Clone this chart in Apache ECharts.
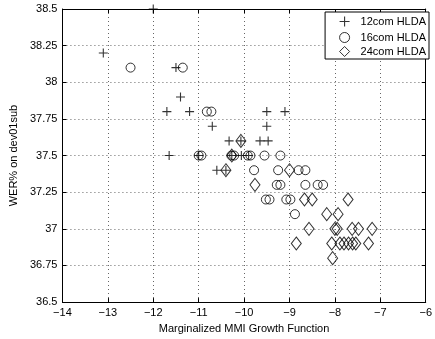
<!DOCTYPE html>
<html>
<head>
<meta charset="utf-8">
<script src="https://cdn.jsdelivr.net/npm/echarts@6/dist/echarts.min.js"></script>
<style>
	html, body { margin: 0; padding: 0; background: #fff; }
	#chart { width: 435px; height: 339px; }
</style>
</head>
<body>
<div id="chart"></div>
<script>
// values: [growth function, WER%]
const hlda12 = [
	[-13.1, 38.2], [-12.0, 38.5], [-11.5, 38.1], [-11.4, 37.9], [-11.7, 37.8], [-11.2, 37.8],
	[-10.7, 37.7], [-10.33, 37.6], [-10.07, 37.6], [-11.65, 37.5], [-11.0, 37.5],
	[-10.27, 37.5], [-10.06, 37.5], [-9.9, 37.5], [-10.6, 37.4], [-10.4, 37.4],
	[-9.5, 37.8], [-9.1, 37.8], [-9.5, 37.7], [-9.65, 37.6], [-9.47, 37.6]
]
const hlda16 = [
	[-12.5, 38.1], [-11.35, 38.1], [-10.82, 37.8], [-10.72, 37.8], [-11.0, 37.5], [-10.94, 37.5],
	[-10.28, 37.5], [-10.22, 37.5], [-9.92, 37.5], [-9.86, 37.5], [-9.55, 37.5], [-9.2, 37.5],
	[-9.78, 37.4], [-9.25, 37.4], [-8.8, 37.4], [-8.65, 37.4],
	[-9.28, 37.3], [-9.2, 37.3], [-8.65, 37.3], [-8.38, 37.3], [-8.26, 37.3],
	[-9.52, 37.2], [-9.44, 37.2], [-9.07, 37.2], [-8.98, 37.2], [-8.88, 37.1]
]
const hlda24 = [
	[-10.07, 37.6], [-10.27, 37.5], [-10.4, 37.4], [-9.0, 37.4], [-9.76, 37.3],
	[-8.67, 37.2], [-8.5, 37.2], [-7.71, 37.2], [-8.18, 37.1], [-7.93, 37.1],
	[-8.57, 37.0], [-8.0, 37.0], [-7.95, 37.0], [-7.62, 37.0], [-7.48, 37.0], [-7.18, 37.0],
	[-8.85, 36.9], [-8.07, 36.9], [-7.89, 36.9], [-7.8, 36.9], [-7.7, 36.9], [-7.61, 36.9],
	[-7.54, 36.9], [-7.26, 36.9], [-8.05, 36.8]
]
const seriesNames = ['12com HLDA', '16com HLDA', '24com HLDA']

const font = 'Liberation Sans, Arial, sans-serif'
// plus sign drawn as two strokes
const plusPath = 'path://M0,5L10,5M5,0L5,10'
const plusStyle = { color: 'none', borderColor: '#000', borderWidth: 1.1 }
const hollow = { color: 'rgba(0,0,0,0)', borderColor: '#000', borderWidth: 1 }
const gridLine = { show: true, lineStyle: { color: '#666', type: [1, 3], width: 1 } }
const tick = { show: true, inside: true, length: 4, lineStyle: { color: '#000' } }
const line = { show: true, lineStyle: { color: '#000', width: 1 } }

const xBase = { type: 'value', min: -14, max: -6, interval: 1 }
const yBase = { type: 'value', min: 36.5, max: 38.5, interval: 0.25 }

let chart = echarts.init(document.getElementById('chart'))
chart.setOption({
	animation: false,
	textStyle: { fontFamily: font },
	grid: { left: 54, right: 3, top: 9, bottom: 32 },
	legend: {
		right: 6,
		top: 12,
		orient: 'vertical',
		backgroundColor: '#fff',
		borderColor: '#000',
		borderWidth: 1,
		borderRadius: 0,
		padding: [2, 3, 2, 12],
		itemGap: 3,
		itemWidth: 10,
		itemHeight: 10,
		textStyle: { fontSize: 11, color: '#000', padding: [0, 0, 0, 6] },
		data: [
			{ name: seriesNames[0], icon: plusPath, itemStyle: plusStyle },
			{ name: seriesNames[1], icon: 'circle', itemStyle: hollow },
			{ name: seriesNames[2], icon: 'diamond', itemStyle: hollow }
		]
	},
	xAxis: [
		Object.assign({}, xBase, {
			position: 'bottom',
			axisLine: line,
			axisTick: tick,
			splitLine: gridLine,
			axisLabel: {
				color: '#000', fontSize: 11, margin: 5,
				formatter: v => String(v).replace('-', '\u2212')
			},
			name: 'Marginalized MMI Growth Function',
			nameLocation: 'middle',
			nameGap: 20,
			nameTextStyle: { color: '#000', fontSize: 11 }
		}),
		Object.assign({}, xBase, {
			position: 'top',
			axisLine: line,
			axisTick: tick,
			axisLabel: { show: false },
			splitLine: { show: false }
		})
	],
	yAxis: [
		Object.assign({}, yBase, {
			position: 'left',
			axisLine: line,
			axisTick: tick,
			splitLine: gridLine,
			axisLabel: { color: '#000', fontSize: 11, margin: 5 },
			name: 'WER% on dev01sub',
			nameLocation: 'middle',
			nameGap: 39,
			nameTextStyle: { color: '#000', fontSize: 11 }
		}),
		Object.assign({}, yBase, {
			position: 'right',
			axisLine: line,
			axisTick: tick,
			axisLabel: { show: false },
			splitLine: { show: false }
		})
	],
	series: [
		{
			name: seriesNames[0],
			type: 'scatter',
			data: hlda12,
			symbol: plusPath,
			symbolSize: 9,
			itemStyle: plusStyle
		},
		{
			name: seriesNames[1],
			type: 'scatter',
			data: hlda16,
			symbol: 'circle',
			symbolSize: 9,
			itemStyle: hollow
		},
		{
			name: seriesNames[2],
			type: 'scatter',
			data: hlda24,
			symbol: 'diamond',
			symbolSize: [10, 13],
			itemStyle: hollow
		}
	]
})
</script>
</body>
</html>
